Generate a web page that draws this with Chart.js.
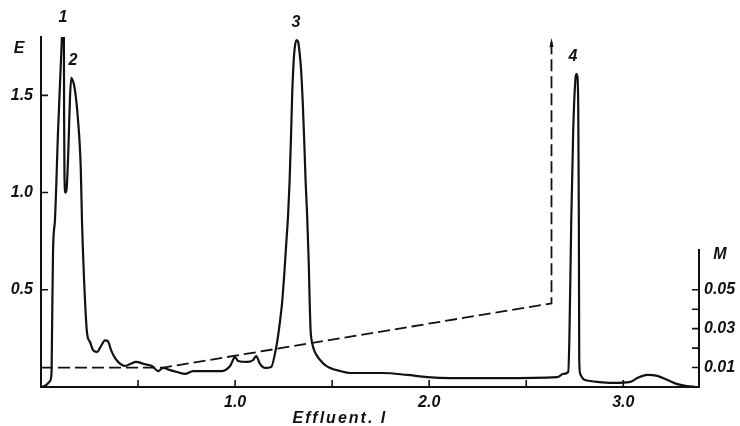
<!DOCTYPE html>
<html>
<head>
<meta charset="utf-8">
<script src="https://cdn.jsdelivr.net/npm/chart.js@4/dist/chart.umd.min.js"></script>
<style>
  html, body { margin: 0; padding: 0; background: #fff; }
  canvas { display: block; }
</style>
</head>
<body>
<canvas id="elution" width="740" height="426"></canvas>
<script>
// 洗脱曲线：流出体积 (l) 与吸光度 E
const effluent = [
  0.005, 0.026, 0.046, 0.054, 0.057, 0.062, 0.072, 0.088, 0.103, 0.108, 0.115, 0.118,
  0.119, 0.121, 0.126, 0.132, 0.141, 0.149, 0.156, 0.162, 0.173, 0.191, 0.205, 0.211,
  0.222, 0.237, 0.253, 0.268, 0.289, 0.309, 0.330, 0.345, 0.361, 0.381, 0.407, 0.433,
  0.459, 0.490, 0.531, 0.572, 0.603, 0.629, 0.665, 0.701, 0.742, 0.784, 0.856, 0.933,
  0.974, 1.000, 1.015, 1.062, 1.093, 1.108, 1.129, 1.155, 1.186, 1.211, 1.222, 1.232,
  1.242, 1.253, 1.263, 1.273, 1.281, 1.289, 1.294, 1.302, 1.309, 1.317, 1.325, 1.332,
  1.340, 1.348, 1.356, 1.363, 1.371, 1.379, 1.384, 1.389, 1.397, 1.407, 1.423, 1.438,
  1.464, 1.490, 1.541, 1.593, 1.763, 1.887, 1.990, 2.108, 2.366,
  2.660, 2.691, 2.716, 2.722, 2.732, 2.742, 2.753, 2.758, 2.763, 2.768, 2.771, 2.773,
  2.778, 2.794, 2.830, 2.866, 2.948, 3.036, 3.072, 3.124, 3.175, 3.227, 3.278, 3.330,
  3.371
];
const absorbance = [
  0.00, 0.01, 0.03, 0.07, 0.29, 0.70, 0.86, 1.32, 1.68, 1.80, 1.95, 1.80,
  1.40, 1.08, 1.00, 1.02, 1.22, 1.48, 1.59, 1.58, 1.54, 1.37, 1.12, 0.86,
  0.55, 0.28, 0.23, 0.19, 0.18, 0.21, 0.24, 0.235, 0.19, 0.15, 0.12, 0.108,
  0.118, 0.129, 0.118, 0.108, 0.082, 0.098, 0.087, 0.077, 0.067, 0.082, 0.082, 0.082,
  0.108, 0.154, 0.134, 0.129, 0.139, 0.159, 0.118, 0.098, 0.103, 0.20, 0.267, 0.344,
  0.432, 0.576, 0.730, 0.884, 1.064, 1.321, 1.501, 1.681, 1.758, 1.784, 1.774, 1.722,
  1.630, 1.476, 1.270, 1.064, 0.884, 0.653, 0.447, 0.293, 0.226, 0.190, 0.159, 0.139,
  0.113, 0.098, 0.082, 0.072, 0.072, 0.062, 0.051, 0.046, 0.046,
  0.051, 0.067, 0.077, 0.24, 0.86, 1.32, 1.58, 1.61, 1.60, 1.42, 0.86, 0.14,
  0.067, 0.041, 0.031, 0.026, 0.021, 0.026, 0.046, 0.062, 0.057, 0.036, 0.015, 0.005,
  0.00
];

// 盐浓度梯度 M (虚线)
const gradientEffluent = [0, 0.63, 2.63, 2.63];
const molarity = [0.01, 0.01, 0.043, 0.178];

// 峰编号
const peakNames = ['1', '2', '3', '4'];
const peakX = [0.113, 0.165, 1.314, 2.74];
const peakE = [1.90, 1.68, 1.875, 1.70];

// 刻度
const xTickMarks = [0.5, 1.0, 1.5, 2.0, 2.5, 3.0];
const xTickLabels = [1.0, 2.0, 3.0];
const eTickMarks = [0.5, 1.0, 1.5];
const mTickMarks = [0.01, 0.02, 0.03, 0.04, 0.05];
const mTickLabels = [0.01, 0.03, 0.05];
const mAxisTop = 0.071;

const FONT = "'Liberation Sans', Arial, sans-serif";
const tickFont = { family: FONT, size: 16, style: 'italic', weight: 'bold' };

const near = (list, v) => list.some(t => Math.abs(t - v) < 1e-6);

// 向内的刻度线、右侧短轴、箭头和文字
const decorations = {
  id: 'decorations',
  afterDraw(chart) {
    const { ctx, chartArea, scales } = chart;
    const { x, y, y2 } = scales;
    ctx.save();
    ctx.strokeStyle = '#111';
    ctx.fillStyle = '#111';
    ctx.lineWidth = 1.6;

    ctx.beginPath();
    xTickMarks.forEach(v => {
      const px = x.getPixelForValue(v);
      ctx.moveTo(px, chartArea.bottom);
      ctx.lineTo(px, chartArea.bottom - 7);
    });
    eTickMarks.forEach(v => {
      const py = y.getPixelForValue(v);
      ctx.moveTo(chartArea.left, py);
      ctx.lineTo(chartArea.left + 7, py);
    });
    mTickMarks.forEach(v => {
      const py = y2.getPixelForValue(v);
      ctx.moveTo(chartArea.right, py);
      ctx.lineTo(chartArea.right - 7, py);
    });
    ctx.stroke();

    // 右侧 M 轴只画到 0.07 附近
    ctx.lineWidth = 2;
    ctx.beginPath();
    ctx.moveTo(chartArea.right, y2.getPixelForValue(0) + 1);
    ctx.lineTo(chartArea.right, y2.getPixelForValue(mAxisTop));
    ctx.stroke();

    // 虚线顶端的箭头
    const pts = chart.getDatasetMeta(1).data;
    const tip = pts[pts.length - 1];
    ctx.beginPath();
    ctx.moveTo(tip.x, tip.y - 3);
    ctx.lineTo(tip.x - 2, tip.y + 6);
    ctx.lineTo(tip.x + 2, tip.y + 6);
    ctx.closePath();
    ctx.fill();

    // 文字
    ctx.font = `italic bold 16px ${FONT}`;
    ctx.textAlign = 'center';
    ctx.textBaseline = 'middle';
    peakNames.forEach((name, i) => {
      ctx.fillText(name, x.getPixelForValue(peakX[i]), y.getPixelForValue(peakE[i]));
    });
    ctx.fillText('E', 19, y.getPixelForValue(1.74));
    ctx.fillText('M', 720, y2.getPixelForValue(0.068));

    ctx.letterSpacing = '2px';
    ctx.fillText('Effluent. l', x.getPixelForValue(1.54), 419);
    ctx.restore();
  }
};

new Chart(document.getElementById('elution'), {
  type: 'line',
  data: {
    datasets: [
      {
        label: 'E',
        data: effluent.map((v, i) => ({ x: v, y: absorbance[i] })),
        borderColor: '#111',
        borderWidth: 2.2,
        pointRadius: 0,
        cubicInterpolationMode: 'monotone',
        yAxisID: 'y',
      },
      {
        label: 'M',
        data: gradientEffluent.map((v, i) => ({ x: v, y: molarity[i] })),
        borderColor: '#111',
        borderWidth: 1.8,
        borderDash: [12, 5],
        pointRadius: 0,
        tension: 0,
        yAxisID: 'y2',
        clip: false,
      }
    ]
  },
  options: {
    responsive: false,
    animation: false,
    layout: { padding: { top: 37 } },
    plugins: {
      legend: { display: false },
      tooltip: { enabled: false },
    },
    scales: {
      x: {
        type: 'linear',
        min: 0,
        max: 3.39,
        afterFit: s => { s.height = 39; },
        grid: { display: false, tickLength: 0 },
        border: { display: true, color: '#111', width: 2 },
        ticks: {
          stepSize: 0.5,
          autoSkip: false,
          maxRotation: 0,
          padding: 6,
          color: '#111',
          font: tickFont,
          callback: v => near(xTickLabels, v) ? v.toFixed(1) : '',
        },
      },
      y: {
        position: 'left',
        min: 0,
        max: 1.8,
        afterFit: s => { s.width = 41; },
        grid: { display: false, tickLength: 0 },
        border: { display: true, color: '#111', width: 2 },
        ticks: {
          stepSize: 0.5,
          autoSkip: false,
          padding: 8,
          color: '#111',
          font: tickFont,
          callback: v => near(eTickMarks, v) ? v.toFixed(1) : '',
        },
      },
      y2: {
        position: 'right',
        min: 0,
        max: 0.18,
        afterFit: s => { s.width = 41; },
        grid: { display: false, tickLength: 0 },
        border: { display: false },
        ticks: {
          stepSize: 0.01,
          autoSkip: false,
          padding: 5,
          color: '#111',
          font: tickFont,
          callback: v => near(mTickLabels, v) ? v.toFixed(2) : '',
        },
      },
    },
  },
  plugins: [decorations],
});
</script>
</body>
</html>
